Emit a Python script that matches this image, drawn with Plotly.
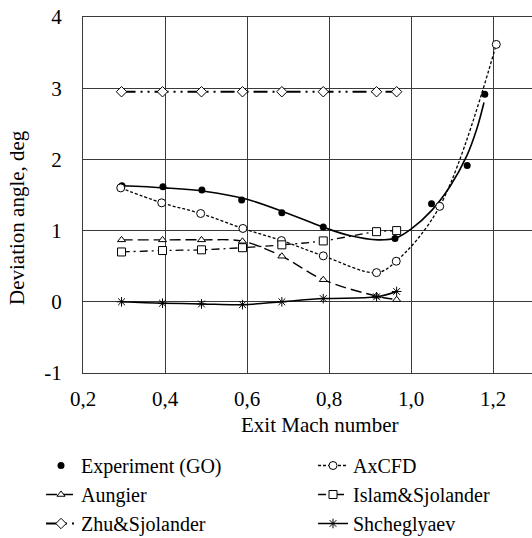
import plotly.graph_objects as go

# ---- data ----
mach_models = [0.294, 0.394, 0.489, 0.589, 0.685, 0.786, 0.916, 0.965]

exp_x = [0.295, 0.395, 0.49, 0.587, 0.685, 0.786, 0.961, 1.050, 1.137, 1.180]
exp_y = [1.63, 1.615, 1.57, 1.43, 1.25, 1.05, 0.89, 1.376, 1.915, 2.915]

trend_x = [0.295, 0.40, 0.50, 0.60, 0.70, 0.785, 0.85, 0.92, 0.965, 1.00, 1.05, 1.095, 1.136, 1.16, 1.178]
trend_y = [1.63, 1.60, 1.55, 1.44, 1.24, 1.05, 0.93, 0.87, 0.90, 1.02, 1.28, 1.62, 2.05, 2.42, 2.80]

axcfd_x = [0.292, 0.392, 0.487, 0.59, 0.684, 0.786, 0.916, 0.964, 1.07, 1.208]
axcfd_y = [1.60, 1.39, 1.24, 1.03, 0.86, 0.645, 0.41, 0.57, 1.34, 3.615]

aungier_y = [0.87, 0.87, 0.87, 0.85, 0.64, 0.31, 0.08, 0.03]
islam_y = [0.70, 0.72, 0.73, 0.76, 0.80, 0.855, 0.985, 1.00]
zhu_y = [2.95, 2.95, 2.95, 2.95, 2.95, 2.95, 2.95, 2.95]
shch_y = [0.00, -0.02, -0.03, -0.04, 0.00, 0.045, 0.07, 0.145]

x_tickvals = [0.2, 0.4, 0.6, 0.8, 1.0, 1.2]
x_ticktext = ["0,2", "0,4", "0,6", "0,8", "1,0", "1,2"]
y_tickvals = [-1, 0, 1, 2, 3, 4]
y_ticktext = ["-1", "0", "1", "2", "3", "4"]

FONT = "Liberation Serif"
FS = 21
LFS = 20
BLACK = "black"

fig = go.Figure()

fig.add_trace(go.Scatter(
    x=trend_x, y=trend_y, mode="lines", line=dict(color=BLACK, width=1.6, shape="spline"),
    showlegend=False, hoverinfo="skip"))

fig.add_trace(go.Scatter(
    x=exp_x, y=exp_y, mode="markers", name="Experiment (GO)", legend="legend",
    marker=dict(symbol="circle", size=7, color=BLACK)))

fig.add_trace(go.Scatter(
    x=axcfd_x, y=axcfd_y, mode="lines+markers", name="AxCFD", legend="legend2",
    line=dict(color=BLACK, width=1.3, dash="3px,2px", shape="spline"),
    marker=dict(symbol="circle", size=8, color="white", line=dict(color=BLACK, width=1))))

fig.add_trace(go.Scatter(
    x=mach_models, y=aungier_y, mode="lines+markers", name="Aungier", legend="legend",
    line=dict(color=BLACK, width=1.4, dash="11px,5px", shape="spline"),
    marker=dict(symbol="triangle-up", size=7, color="white", line=dict(color=BLACK, width=1))))

fig.add_trace(go.Scatter(
    x=mach_models, y=islam_y, mode="lines+markers", name="Islam&Sjolander", legend="legend2",
    line=dict(color=BLACK, width=1.3, dash="8px,4px,2px,4px", shape="spline"),
    marker=dict(symbol="square", size=8, color="white", line=dict(color=BLACK, width=1))))

fig.add_trace(go.Scatter(
    x=mach_models, y=zhu_y, mode="lines+markers", name="Zhu&Sjolander", legend="legend",
    line=dict(color=BLACK, width=2, dash="14px,5px,2px,5px,2px,5px"),
    marker=dict(symbol="diamond", size=8, color="white", line=dict(color=BLACK, width=1))))

fig.add_trace(go.Scatter(
    x=mach_models, y=shch_y, mode="lines+markers", name="Shcheglyaev", legend="legend2",
    line=dict(color=BLACK, width=1.5, shape="spline"),
    marker=dict(symbol="asterisk-open", size=8, color=BLACK, line=dict(color=BLACK, width=1))))

L, T, B = 83, 17, 165
W, H = 532, 538
pw = W - L
ph = H - T - B

def px_x(p):
    return (p - L) / pw

def px_y(p):
    return (H - B - p) / ph

GRID = "#3a3a3a"

legend_common = dict(orientation="v", xanchor="left", yanchor="top", bgcolor="rgba(0,0,0,0)",
                     font=dict(family=FONT, size=LFS, color=BLACK), itemwidth=30,
                     tracegroupgap=0, traceorder="normal")

fig.update_layout(
    width=W, height=H,
    margin=dict(l=L, r=0, t=T, b=B, pad=0, autoexpand=False),
    paper_bgcolor="white", plot_bgcolor="white",
    font=dict(family=FONT, size=FS, color=BLACK),
    xaxis=dict(range=[0.2, 0.2 + pw / 410.0], tickvals=x_tickvals, ticktext=x_ticktext,
               showgrid=True, gridcolor=GRID, gridwidth=1, zeroline=False,
               showline=True, linecolor=GRID, linewidth=1, mirror=True,
               ticks="", ticklabelstandoff=7, tickfont=dict(family=FONT, size=FS, color=BLACK)),
    yaxis=dict(range=[-1, 4], tickvals=y_tickvals, ticktext=y_ticktext,
               showgrid=True, gridcolor=GRID, gridwidth=1, zeroline=False,
               showline=True, linecolor=GRID, linewidth=1,
               ticks="", ticklabelstandoff=16, tickfont=dict(family=FONT, size=FS, color=BLACK)),
    legend=dict(x=px_x(41), y=px_y(446), **legend_common),
    legend2=dict(x=px_x(313), y=px_y(446), **legend_common),
    annotations=[
        dict(text="Exit Mach number", x=px_x(319), y=px_y(425), xref="paper", yref="paper",
             showarrow=False, xanchor="center", yanchor="middle", font=dict(family=FONT, size=FS, color=BLACK)),
        dict(text="Deviation angle, deg", x=px_x(17), y=px_y(218), xref="paper", yref="paper",
             showarrow=False, xanchor="center", yanchor="middle", textangle=-90,
             font=dict(family=FONT, size=FS, color=BLACK)),
    ],
)

fig.write_html("out.html")
